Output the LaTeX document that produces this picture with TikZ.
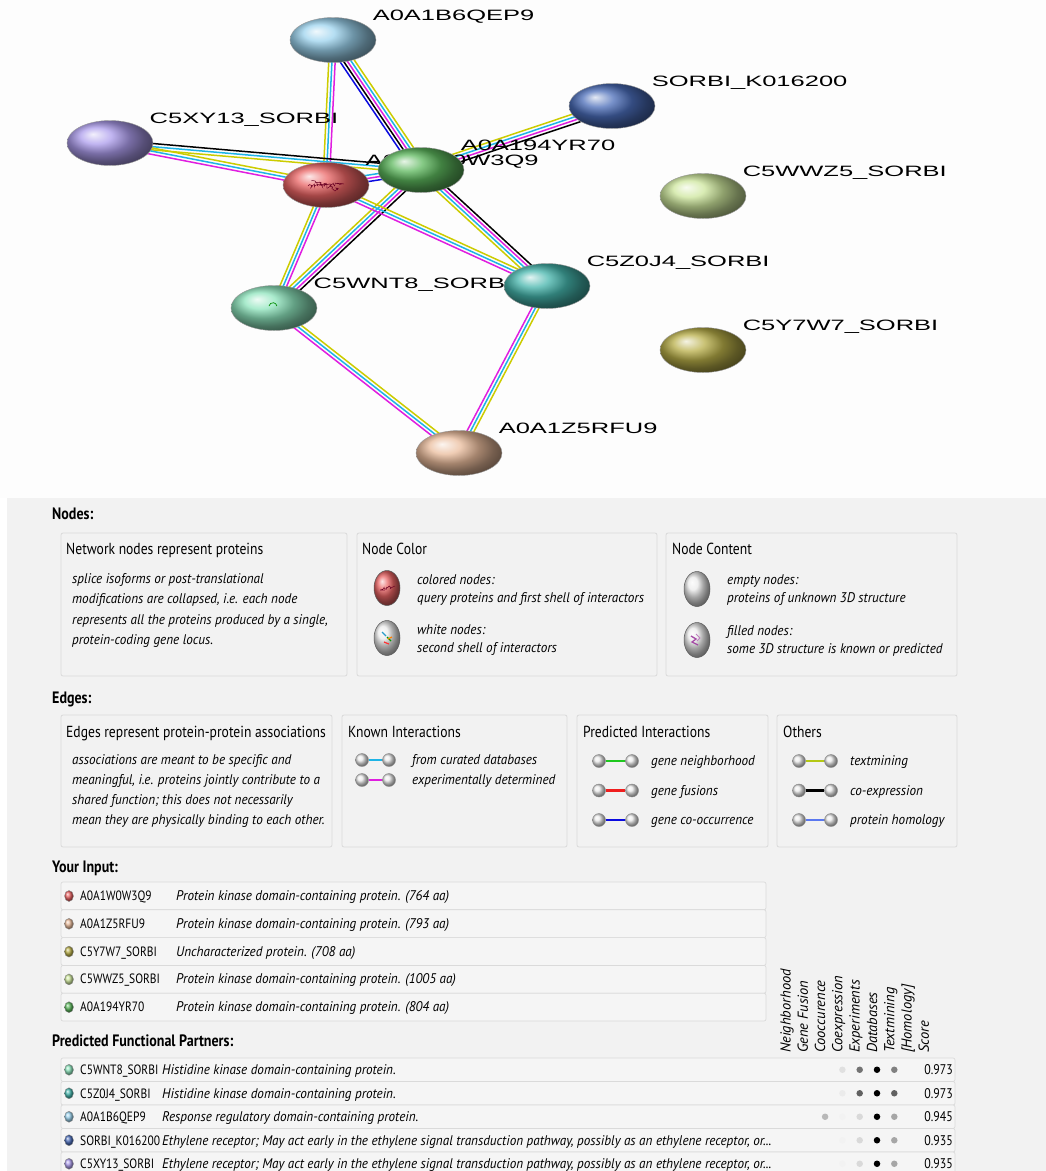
\documentclass[tikz,border=0pt]{standalone}
\usepackage{fontspec}
\setmainfont{PT Sans}[FakeStretch=0.85]
\newfontfamily\headfont{PT Sans}
\newfontfamily\descfont{PT Sans}[FakeStretch=0.94]
\newfontfamily\netfont{Liberation Sans}[FakeStretch=1.7]
\usetikzlibrary{shapes.geometric,calc,decorations.pathmorphing}

\definecolor{qepcol}{HTML}{9CD3EE}
\definecolor{k016col}{HTML}{4A6CB8}
\definecolor{xy13col}{HTML}{AC9CEC}
\definecolor{yr70col}{HTML}{5DB85D}
\definecolor{w0w3col}{HTML}{EA6464}
\definecolor{wwz5col}{HTML}{CDE69C}
\definecolor{z0j4col}{HTML}{45B5AC}
\definecolor{wnt8col}{HTML}{8DE4BC}
\definecolor{y7w7col}{HTML}{B8AE48}
\definecolor{rfu9col}{HTML}{EABC9C}
\definecolor{txtcol}{HTML}{CCCC00}
\definecolor{dbcol}{HTML}{1EB4E6}
\definecolor{expcol}{HTML}{E01EE0}
\definecolor{coexcol}{HTML}{000000}
\definecolor{coocol}{HTML}{0A0AE0}
\definecolor{neighcol}{HTML}{1EC81E}
\definecolor{fuscol}{HTML}{F01E1E}
\definecolor{homcol}{HTML}{5A78F0}
\definecolor{legtxtcol}{HTML}{B4C814}
\definecolor{topbg}{HTML}{FDFDFD}
\definecolor{panelbg}{HTML}{F2F2F2}
\definecolor{boxline}{HTML}{DADADA}
\definecolor{rowfill}{HTML}{F5F5F5}

\pgfdeclarelayer{ground}
\pgfdeclarelayer{edges}
\pgfdeclarelayer{names}
\pgfsetlayers{ground,edges,names,main}

\tikzset{
  prot/.style={ellipse, minimum width=86, minimum height=45, inner sep=0, draw=black!40, line width=0.4, ball color=#1},
  protname/.style={anchor=base west, inner sep=0, font=\netfont\fontsize{15}{15}\selectfont},
  strline/.style={line width=1.5},
  sechead/.style={anchor=base west, inner sep=0, font=\fontsize{16.5}{18}\selectfont\bfseries},
  boxhead/.style={anchor=base west, inner sep=0, font=\fontsize{16}{18}\selectfont},
  legtext/.style={anchor=base west, inner sep=0, align=left, font=\descfont\fontsize{14}{20.5}\selectfont\itshape},
  legbox/.style={draw=boxline, rounded corners=2, line width=0.8},
  legball/.style={ellipse, minimum width=26, minimum height=35, inner sep=0, draw=black!65, line width=0.5, ball color=#1},
  tinyball/.style={circle, minimum size=13, inner sep=0, draw=black!45, line width=0.4, ball color=white!92!black},
  legline/.style={line width=2.2},
  rowbox/.style={draw=boxline, fill=rowfill, rounded corners=2, line width=0.7},
  rowdot/.style={ellipse, minimum width=9, minimum height=11, inner sep=0, draw=black!45, line width=0.3, ball color=#1},
  rowid/.style={anchor=base west, inner sep=0, font=\fontsize{13.5}{14}\selectfont},
  rowdesc/.style={anchor=base west, inner sep=0, font=\descfont\fontsize{14}{14}\selectfont\itshape},
  colhead/.style={rotate=90, anchor=mid west, inner sep=0, font=\headfont\fontsize{14.5}{14.5}\selectfont\itshape},
  evdot/.style={circle, minimum size=6.5, inner sep=0, fill=#1},
  score/.style={anchor=base east, inner sep=0, font=\fontsize{14}{14}\selectfont},
}

% one coloured line per evidence channel, side by side
\newcommand{\stredge}[4]{%
  \foreach \ecol [count=\ei] in {#4}{%
    \pgfmathsetmacro{\eoff}{(\ei-(#3+1)/2)*3.2}%
    \draw[strline,\ecol] ($(#1)!\eoff pt!90:(#2)$) -- ($(#2)!\eoff pt!-90:(#1)$);
  }%
}

\begin{document}
\begin{tikzpicture}[x=1pt,y=-1pt]
\useasboundingbox (0,0) rectangle (1046,1171);
\begin{pgfonlayer}{ground}
\fill[topbg] (0,0) rectangle (1046,498);
\fill[panelbg] (7,498) rectangle (1046,1171);
\end{pgfonlayer}

%network
\node[prot=qepcol] (qep9) at (333,40) {};
\node[prot=k016col] (k016) at (612,106) {};
\node[prot=xy13col] (xy13) at (110,143) {};
\node[prot=w0w3col] (w0w3) at (326,185) {};
\node[prot=yr70col] (yr70) at (421,170) {};
\node[prot=wwz5col] (wwz5) at (703,196) {};
\node[prot=z0j4col] (z0j4) at (547,286) {};
\node[prot=wnt8col] (wnt8) at (274,308) {};
\node[prot=y7w7col] (y7w7) at (703,350) {};
\node[prot=rfu9col] (rfu9) at (459,453) {};
\draw[decorate,decoration={random steps,segment length=1.2pt,amplitude=2pt},draw=purple!55!black,line width=0.5] ($(w0w3)+(-18,1)$) -- ($(w0w3)+(18,-1)$);
\draw[decorate,decoration={random steps,segment length=1.2pt,amplitude=2pt},draw=purple!55!black,line width=0.5] ($(w0w3)+(-14,-4)$) -- ($(w0w3)+(12,5)$);
\draw[black!45!green,line width=0.7] ($(wnt8)+(-5,-2)$) arc[start angle=190,end angle=350,radius=4];

\begin{pgfonlayer}{names}
\foreach \p/\t in {qep9/A0A1B6QEP9, k016/SORBI\_K016200, xy13/C5XY13\_SORBI, w0w3/A0A1W0W3Q9, yr70/A0A194YR70, wwz5/C5WWZ5\_SORBI, z0j4/C5Z0J4\_SORBI, wnt8/C5WNT8\_SORBI, y7w7/C5Y7W7\_SORBI, rfu9/A0A1Z5RFU9}
  \node[protname] (\p-name) at ([shift={(9,-3)}]\p.north east) {\t};
\end{pgfonlayer}

\begin{pgfonlayer}{edges}
\stredge{qep9}{w0w3}{3}{txtcol,dbcol,expcol}
\stredge{qep9}{yr70}{5}{coocol,coexcol,expcol,dbcol,txtcol}
\stredge{k016}{yr70}{4}{txtcol,dbcol,expcol,coexcol}
\stredge{xy13}{yr70}{3}{txtcol,dbcol,coexcol}
\stredge{xy13}{w0w3}{3}{expcol,dbcol,txtcol}
\stredge{w0w3}{yr70}{3}{coocol,expcol,dbcol}
\stredge{w0w3}{wnt8}{3}{txtcol,dbcol,expcol}
\stredge{yr70}{wnt8}{4}{txtcol,dbcol,expcol,coexcol}
\stredge{w0w3}{z0j4}{3}{expcol,dbcol,txtcol}
\stredge{yr70}{z0j4}{4}{txtcol,dbcol,expcol,coexcol}
\stredge{wnt8}{rfu9}{3}{expcol,dbcol,txtcol}
\stredge{z0j4}{rfu9}{3}{expcol,dbcol,txtcol}
\end{pgfonlayer}

%nodes legend
\node[sechead] (hnodes) at (52,519) {Nodes:};
\draw[legbox] (61,533) rectangle (347,676);
\draw[legbox] (357,533) rectangle (657,676);
\draw[legbox] (666,533) rectangle (957,676);
\node[boxhead] (tprot) at (66,554) {Network nodes represent proteins};
\node[legtext] (dprot) at (72,644.5) {splice isoforms or post-translational\\modifications are collapsed, i.e. each node\\represents all the proteins produced by a single,\\protein-coding gene locus.};
\node[boxhead] (tcol) at (362,554) {Node Color};
\node[legball=w0w3col] (lgcol) at (387,588) {};
\draw[decorate,decoration={random steps,segment length=1pt,amplitude=1.5pt},draw=purple!55!black,line width=0.5] ($(lgcol)+(-7,2)$) -- ($(lgcol)+(7,-2)$);
\node[legtext,font=\descfont\fontsize{14}{18}\selectfont\itshape] (dcol) at (417,602) {colored nodes:\\query proteins and first shell of interactors};
\node[legball=white!92!black] (lgwhite) at (387,638) {};
\draw[cyan!80!black,line width=1.2] ($(lgwhite)+(-5,-6)$) -- ($(lgwhite)+(-1,-2)$);
\draw[green!60!black,line width=1.2] ($(lgwhite)+(0,-1)$) -- ($(lgwhite)+(4,3)$);
\draw[red!80,line width=1.2] ($(lgwhite)+(-3,4)$) -- ($(lgwhite)+(2,6)$);
\draw[orange,line width=1.2] ($(lgwhite)+(1,1)$) -- ($(lgwhite)+(5,-1)$);
\node[legtext,font=\descfont\fontsize{14}{18}\selectfont\itshape] (dwhite) at (417,652) {white nodes:\\second shell of interactors};
\node[boxhead] (tcont) at (672,554) {Node Content};
\node[legball=white!92!black] (lgempty) at (697,589) {};
\node[legtext,font=\descfont\fontsize{14}{18}\selectfont\itshape] (dempty) at (727,602) {empty nodes:\\proteins of unknown 3D structure};
\node[legball=white!92!black] (lgfill) at (697,640) {};
\draw[violet!70,line width=1.3] ($(lgfill)+(-6,-4)$) -- ++(5,3) -- ++(-4,3) -- ++(6,3);
\draw[violet!50,line width=1] ($(lgfill)+(-1,-6)$) -- ++(4,4) -- ++(-3,3);
\node[legtext,font=\descfont\fontsize{14}{18}\selectfont\itshape] (dfill) at (727,653) {filled nodes:\\some 3D structure is known or predicted};

%edges legend
\node[sechead] (hedges) at (52,703) {Edges:};
\draw[legbox] (61,715) rectangle (332,847);
\draw[legbox] (342,715) rectangle (567,847);
\draw[legbox] (577,715) rectangle (768,847);
\draw[legbox] (777,715) rectangle (957,847);
\node[boxhead] (tedge) at (66,737) {Edges represent protein-protein associations};
\node[legtext,font=\descfont\fontsize{14}{20}\selectfont\itshape] (dedge) at (72,824) {associations are meant to be specific and\\meaningful, i.e. proteins jointly contribute to a\\shared function; this does not necessarily\\mean they are physically binding to each other.};
\node[boxhead] (tknown) at (348,737) {Known Interactions};
\foreach \ecol/\etxt [count=\k] in {dbcol/from curated databases, expcol/experimentally determined} {
  \node[tinyball] (kn\k-a) at (362,{740+20*\k}) {};
  \node[tinyball] (kn\k-b) at (389,{740+20*\k}) {};
  \draw[legline,\ecol] (kn\k-a) -- (kn\k-b);
  \node[legtext] (kn\k-t) at (412,{744.5+20*\k}) {\etxt};
}
\node[boxhead] (tpred) at (583,737) {Predicted Interactions};
\foreach \ecol/\etxt [count=\k] in {neighcol/gene neighborhood, fuscol/gene fusions, coocol/gene co-occurrence} {
  \node[tinyball] (pr\k-a) at (599,{731.5+29.5*\k}) {};
  \node[tinyball] (pr\k-b) at (632,{731.5+29.5*\k}) {};
  \draw[legline,\ecol] (pr\k-a) -- (pr\k-b);
  \node[legtext] (pr\k-t) at (651,{736+29.5*\k}) {\etxt};
}
\node[boxhead] (toth) at (783,737) {Others};
\foreach \ecol/\etxt [count=\k] in {legtxtcol/textmining, coexcol/co-expression, homcol/protein homology} {
  \node[tinyball] (ot\k-a) at (799,{731.5+29.5*\k}) {};
  \node[tinyball] (ot\k-b) at (831,{731.5+29.5*\k}) {};
  \draw[legline,\ecol] (ot\k-a) -- (ot\k-b);
  \node[legtext] (ot\k-t) at (850,{736+29.5*\k}) {\etxt};
}

%input proteins
\node[sechead] (hinput) at (52,872) {Your Input:};
\foreach \pcol/\pid/\pdesc [count=\k] in {
  w0w3col/A0A1W0W3Q9/{Protein kinase domain-containing protein. (764 aa)},
  rfu9col/A0A1Z5RFU9/{Protein kinase domain-containing protein. (793 aa)},
  y7w7col/C5Y7W7\_SORBI/{Uncharacterized protein. (708 aa)},
  wwz5col/C5WWZ5\_SORBI/{Protein kinase domain-containing protein. (1005 aa)},
  yr70col/A0A194YR70/{Protein kinase domain-containing protein. (804 aa)}} {
  \pgfmathsetmacro{\ytop}{882+27.8*(\k-1)}
  \draw[rowbox] (61,\ytop) rectangle (766,{\ytop+27.8});
  \node[rowdot=\pcol] (in\k) at (69,{\ytop+14}) {};
  \node[rowid] (in\k-id) at (80,{\ytop+18.5}) {\pid};
  \node[rowdesc] (in\k-desc) at (176,{\ytop+18.5}) {\pdesc};
}

%predicted partners
\node[sechead] (hpart) at (52,1046) {Predicted Functional Partners:};
\foreach \htxt [count=\j] in {Neighborhood, Gene Fusion, Cooccurence, Coexpression, Experiments, Databases, Textmining, {[Homology]}, Score}
  \node[colhead] (col\j) at ({788+17.3*(\j-1)},1053) {\htxt};
\foreach \pcol/\pid/\pdesc/\pscore/\pev [count=\k] in {
  wnt8col/C5WNT8\_SORBI/{Histidine kinase domain-containing protein.}/0.973/{4/12,5/55,6/100,7/50},
  z0j4col/C5Z0J4\_SORBI/{Histidine kinase domain-containing protein.}/0.973/{4/8,5/62,6/100,7/62},
  qepcol/A0A1B6QEP9/{Response regulatory domain-containing protein.}/0.945/{3/28,4/5,5/15,6/100,7/35},
  k016col/SORBI\_K016200/{Ethylene receptor; May act early in the ethylene signal transduction pathway, possibly as an ethylene receptor, or...}/0.935/{4/5,5/15,6/100,7/35},
  xy13col/C5XY13\_SORBI/{Ethylene receptor; May act early in the ethylene signal transduction pathway, possibly as an ethylene receptor, or...}/0.935/{4/5,5/15,6/100,7/35}} {
  \pgfmathsetmacro{\ytop}{1058+23.5*(\k-1)}
  \draw[rowbox] (61,\ytop) rectangle (955,{\ytop+23.5});
  \node[rowdot=\pcol] (pt\k) at (69,{\ytop+11.75}) {};
  \node[rowid] (pt\k-id) at (80,{\ytop+16.5}) {\pid};
  \node[rowdesc] (pt\k-desc) at (162,{\ytop+16.5}) {\pdesc};
  \foreach \ej/\esh in \pev
    \node[evdot=black!\esh] (ev\k-\ej) at ({790.5+17.3*(\ej-1)},{\ytop+11.75}) {};
  \node[score] (sc\k) at (953,{\ytop+16.5}) {\pscore};
}
\end{tikzpicture}
\end{document}
